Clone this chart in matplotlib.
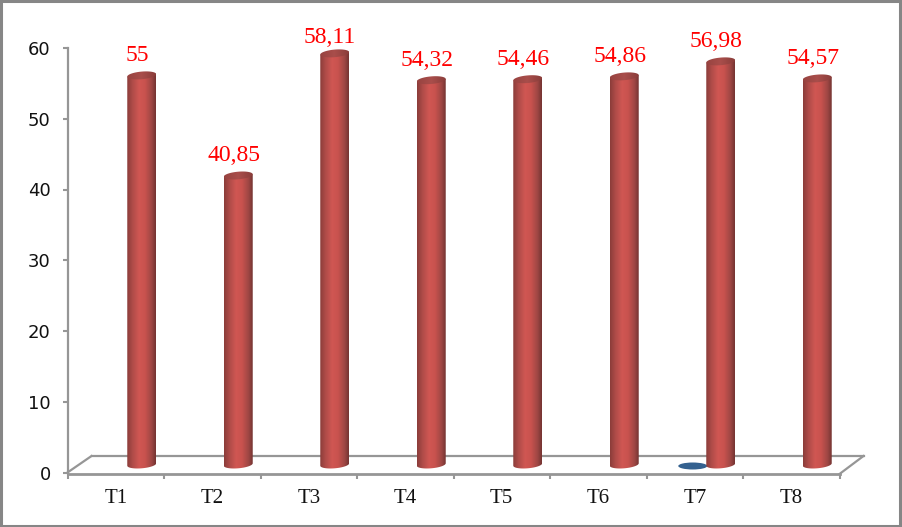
import numpy as np
import matplotlib
matplotlib.use("Agg")
import matplotlib.pyplot as plt
from matplotlib.colors import LinearSegmentedColormap
from matplotlib.patches import Ellipse, PathPatch, Rectangle
from matplotlib.path import Path
from matplotlib.transforms import Affine2D

categories = ["T1", "T2", "T3", "T4", "T5", "T6", "T7", "T8"]
red_values = [55, 40.85, 58.11, 54.32, 54.46, 54.86, 56.98, 54.57]
red_labels = ["55", "40,85", "58,11", "54,32", "54,46", "54,86", "56,98", "54,57"]
blue_values = [None, None, None, None, None, None, 0, None]
label_gap = [14.5, 14.5, 11.5, 14.5, 14.5, 14.5, 14.5, 14.5]

W, H = 902, 527
AX_L, AX_R, AX_Y0, AX_Y60 = 67.5, 839.5, 472.5, 48
GREY = "#969696"

fig = plt.figure(figsize=(W / 100, H / 100), dpi=100, facecolor="white")
ax = fig.add_axes([AX_L / W, (H - AX_Y0) / H, (AX_R - AX_L) / W, (AX_Y0 - AX_Y60) / H])
ax.set_facecolor("none")

xs = np.arange(len(categories))
BAR_W = 0.30
PX_PER_UNIT = (AX_Y0 - AX_Y60) / 60
RY = 3.8 / PX_PER_UNIT
TILT = 1.2 / PX_PER_UNIT
red_tr = ax.transData + Affine2D().translate(26, 8)
blue_tr = ax.transData + Affine2D().translate(-2, 6.5)

body_cmap = LinearSegmentedColormap.from_list(
    "body", [(0, "#8a3c39"), (0.18, "#ad4b48"), (0.42, "#d05753"),
             (0.62, "#c9524e"), (0.85, "#9e4744"), (1, "#743331")])
top_cmap = LinearSegmentedColormap.from_list(
    "top", [(0, "#974340"), (0.5, "#a94e4b"), (1, "#8a3d3a")])
grad = np.linspace(0, 1, 256).reshape(1, -1)


def cylinder(x, v):
    t = np.linspace(np.pi, 2 * np.pi, 40)
    low_x = x + BAR_W / 2 * np.cos(t)
    low_y = RY * np.sin(t) + TILT * np.cos(t)
    px = np.r_[low_x, x + BAR_W / 2, x - BAR_W / 2, low_x[0]]
    py = np.r_[low_y, v + TILT, v - TILT, low_y[0]]
    clip = PathPatch(Path(np.c_[px, py]), transform=red_tr, fc="none", ec="none")
    ax.add_patch(clip)
    im = ax.imshow(grad, cmap=body_cmap, aspect="auto", transform=red_tr, zorder=3,
                   extent=(x - BAR_W / 2, x + BAR_W / 2, -2 * RY, v + 2 * RY))
    im.set_clip_path(clip)
    a = np.linspace(0, 2 * np.pi, 80)
    cap_path = Path(np.c_[x + BAR_W / 2 * np.cos(a), v + RY * np.sin(a) + TILT * np.cos(a)])
    cap = PathPatch(cap_path, transform=red_tr, fc="none", ec="none")
    ax.add_patch(cap)
    imc = ax.imshow(grad, cmap=top_cmap, aspect="auto", transform=red_tr, zorder=4,
                    extent=(x - BAR_W / 2, x + BAR_W / 2, v - 2 * RY, v + 2 * RY))
    imc.set_clip_path(cap)


for x, v in zip(xs, blue_values):
    if v is not None:
        ax.add_patch(Ellipse((x, v), BAR_W, 7 / PX_PER_UNIT, transform=blue_tr,
                             fc="#34618f", ec="none", zorder=2, clip_on=False))

for x, v, lab, gap in zip(xs, red_values, red_labels, label_gap):
    cylinder(x, v)
    ax.annotate(lab, (x, v), xycoords=red_tr, xytext=(-3.3, gap), textcoords="offset points",
                ha="center", va="center", color="#ff0000", fontsize=17,
                family="Liberation Serif", zorder=5)

ax.set_xlim(-0.5, len(categories) - 0.5)
ax.set_ylim(0, 60)

# floor of the 3D box
floor_tr = ax.transAxes + Affine2D().translate(24, 16.5)
ax.plot([0, 1], [0, 0], transform=floor_tr, color=GREY, lw=1.6, clip_on=False, zorder=1)
for ax_x in (0, 1):
    p0 = ax.transAxes.transform((ax_x, 0)) + np.array([0, -1.5 if ax_x else 0])
    p1 = floor_tr.transform((ax_x, 0))
    ax.plot([p0[0], p1[0]], [p0[1], p1[1]], transform=None, color=GREY, lw=1.6,
            clip_on=False, zorder=1)

for s in ("top", "right"):
    ax.spines[s].set_visible(False)
ax.spines["left"].set_color(GREY)
ax.spines["left"].set_linewidth(1.6)
ax.spines["left"].set_bounds(0, 60)
ax.spines["bottom"].set_color(GREY)
ax.spines["bottom"].set_linewidth(2)
ax.spines["bottom"].set_position(("outward", 1.2))

ax.set_yticks(range(0, 61, 10))
ax.tick_params(axis="y", length=3.6, width=1.5, color=GREY, pad=8.5, labelsize=13, labelcolor="#111111")
ax.set_xticks(np.arange(-0.5, len(categories)))
ax.set_xticklabels([])
ax.set_xticks(xs, minor=True)
ax.set_xticklabels(categories, minor=True, family="Liberation Serif", fontsize=15, color="#111111")
ax.tick_params(axis="x", which="major", length=3.6, width=1.5, color=GREY)
ax.tick_params(axis="x", which="minor", length=0, pad=11)

fig.add_artist(Rectangle((0.0012, 0.0025), 0.9968, 0.9950, transform=fig.transFigure, fc="none",
                         ec="#868686", lw=2.2))

fig.savefig("out.png", dpi=100, facecolor="white")
